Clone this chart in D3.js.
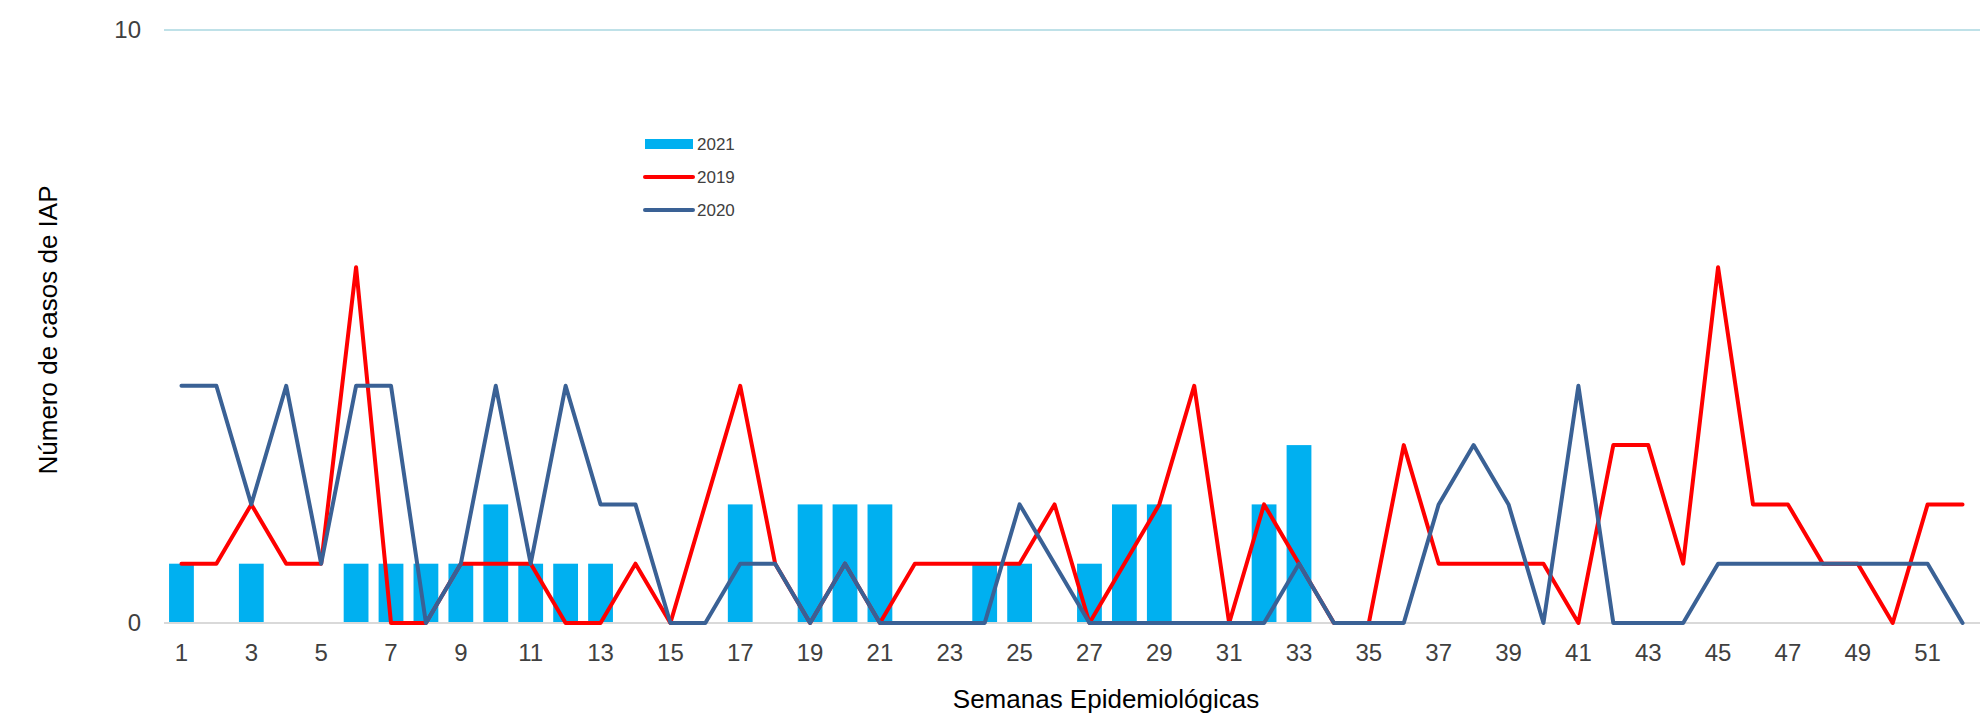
<!DOCTYPE html>
<html lang="es">
<head>
	<meta charset="utf-8">
	<title>Casos de IAP por semana epidemiológica</title>
	<script src="https://cdn.jsdelivr.net/npm/d3@7"></script>
	<style>
		body { margin: 0; background: #fff; }
		svg { display: block; font-family: "Liberation Sans", Arial, sans-serif; }
	</style>
</head>
<body>
<script>

// Weeks 1..52
var weeks = d3.range(1, 53);

// 2021 (bars) - only up to week 33
var cases2021 = [1,0,1,0,0,1,1,1,1,2, 1,1,1,0,0,0,2,0,2,2, 2,0,0,1,1,0,1,2,2,0, 0,2,3];

// 2019 (red line)
var cases2019 = [1,1,2,1,1,6,0,0,1,1, 1,0,0,1,0,2,4,1,0,1, 0,1,1,1,1,2,0,1,2,4, 0,2,1,0,0,3,1,1,1,1, 0,3,3,1,6,2,2,1,1,0, 2,2];

// 2020 (blue line)
var cases2020 = [4,4,2,4,1,4,4,0,1,4, 1,4,2,2,0,0,1,1,0,1, 0,0,0,0,2,1,0,0,0,0, 0,0,1,0,0,0,2,3,2,0, 4,0,0,0,1,1,1,1,1,1, 1,0];

var yTicks = [0, 10];
var xTickLabels = weeks.filter(function(d) { return d % 2 === 1; });

var width = 1988, height = 718;
var margin = {top: 30, right: 8, bottom: 95, left: 164};
var plot_w = width - margin.left - margin.right;
var plot_h = height - margin.top - margin.bottom;

var svg = d3.select("body")
			.append("svg")
			.attr("width", width)
			.attr("height", height);

var g = svg.append("g")
		   .attr("transform", "translate(" + margin.left + "," + margin.top + ")");

var xScale = d3.scaleBand()
			   .domain(weeks)
			   .range([0, plot_w])
			   .paddingInner(0.29)
			   .paddingOuter(0.145);

var yScale = d3.scaleLinear()
			   .domain([0, 10])
			   .range([plot_h, 0]);

function cx(w) { return xScale(w) + xScale.bandwidth() / 2; }

// gridline at 10
g.append("line")
 .attr("x1", 0).attr("x2", plot_w)
 .attr("y1", yScale(10)).attr("y2", yScale(10))
 .attr("stroke", "#BFE1E8").attr("stroke-width", 2);

// y axis labels
var yAxis = d3.axisLeft(yScale)
			  .tickValues(yTicks)
			  .tickSize(0)
			  .tickPadding(23);
var yg = g.append("g").call(yAxis);
yg.select(".domain").remove();
yg.selectAll("text")
  .attr("font-size", 24)
  .attr("font-family", "Liberation Sans, Arial, sans-serif")
  .attr("fill", "#404040");

// bars 2021
g.selectAll("rect.bar")
 .data(cases2021)
 .enter()
 .append("rect")
 .attr("class", "bar")
 .attr("x", function(d, i) { return xScale(weeks[i]); })
 .attr("y", function(d) { return yScale(d); })
 .attr("width", xScale.bandwidth())
 .attr("height", function(d) { return plot_h - yScale(d); })
 .attr("fill", "#00B0F0");

// baseline at 0
g.append("line")
 .attr("x1", 0).attr("x2", plot_w)
 .attr("y1", plot_h).attr("y2", plot_h)
 .attr("stroke", "#D9D9D9").attr("stroke-width", 2);

// x axis labels
var xAxis = d3.axisBottom(xScale)
			  .tickValues(xTickLabels)
			  .tickSize(0)
			  .tickPadding(21);
var xg = g.append("g")
		  .attr("transform", "translate(0," + plot_h + ")")
		  .call(xAxis);
xg.select(".domain").remove();
xg.selectAll("text")
  .attr("font-size", 24)
  .attr("font-family", "Liberation Sans, Arial, sans-serif")
  .attr("fill", "#404040");

// lines
var line = d3.line()
			 .x(function(d, i) { return cx(weeks[i]); })
			 .y(function(d) { return yScale(d); });

g.append("path")
 .datum(cases2019)
 .attr("d", line)
 .attr("fill", "none")
 .attr("stroke", "#FF0000")
 .attr("stroke-width", 4)
 .attr("stroke-linejoin", "round")
 .attr("stroke-linecap", "round");

g.append("path")
 .datum(cases2020)
 .attr("d", line)
 .attr("fill", "none")
 .attr("stroke", "#3A6195")
 .attr("stroke-width", 4)
 .attr("stroke-linejoin", "round")
 .attr("stroke-linecap", "round");

// axis titles
svg.append("text")
   .attr("transform", "translate(48,330) rotate(-90)")
   .attr("text-anchor", "middle")
   .attr("dominant-baseline", "central")
   .attr("font-size", 26)
   .attr("fill", "#000")
   .text("Número de casos de IAP");

svg.append("text")
   .attr("x", 1106)
   .attr("y", 699)
   .attr("text-anchor", "middle")
   .attr("dominant-baseline", "central")
   .attr("font-size", 26)
   .attr("fill", "#000")
   .text("Semanas Epidemiológicas");

// legend
var legendItems = [
	{name: "2021", type: "bar", color: "#00B0F0"},
	{name: "2019", type: "line", color: "#FF0000"},
	{name: "2020", type: "line", color: "#3A6195"}
];

var legend = svg.append("g").attr("transform", "translate(645,144)");
var li = legend.selectAll("g")
			   .data(legendItems)
			   .enter()
			   .append("g")
			   .attr("transform", function(d, i) { return "translate(0," + (i * 33) + ")"; });

li.filter(function(d) { return d.type === "bar"; })
  .append("rect")
  .attr("x", 0).attr("y", -5)
  .attr("width", 48).attr("height", 10)
  .attr("fill", function(d) { return d.color; });

li.filter(function(d) { return d.type === "line"; })
  .append("line")
  .attr("x1", 0).attr("x2", 48)
  .attr("y1", 0).attr("y2", 0)
  .attr("stroke", function(d) { return d.color; })
  .attr("stroke-width", 4)
  .attr("stroke-linecap", "round");

li.append("text")
  .attr("x", 52)
  .attr("y", 0)
  .attr("dominant-baseline", "central")
  .attr("font-size", 17)
  .attr("fill", "#404040")
  .text(function(d) { return d.name; });

</script>
</body>
</html>
